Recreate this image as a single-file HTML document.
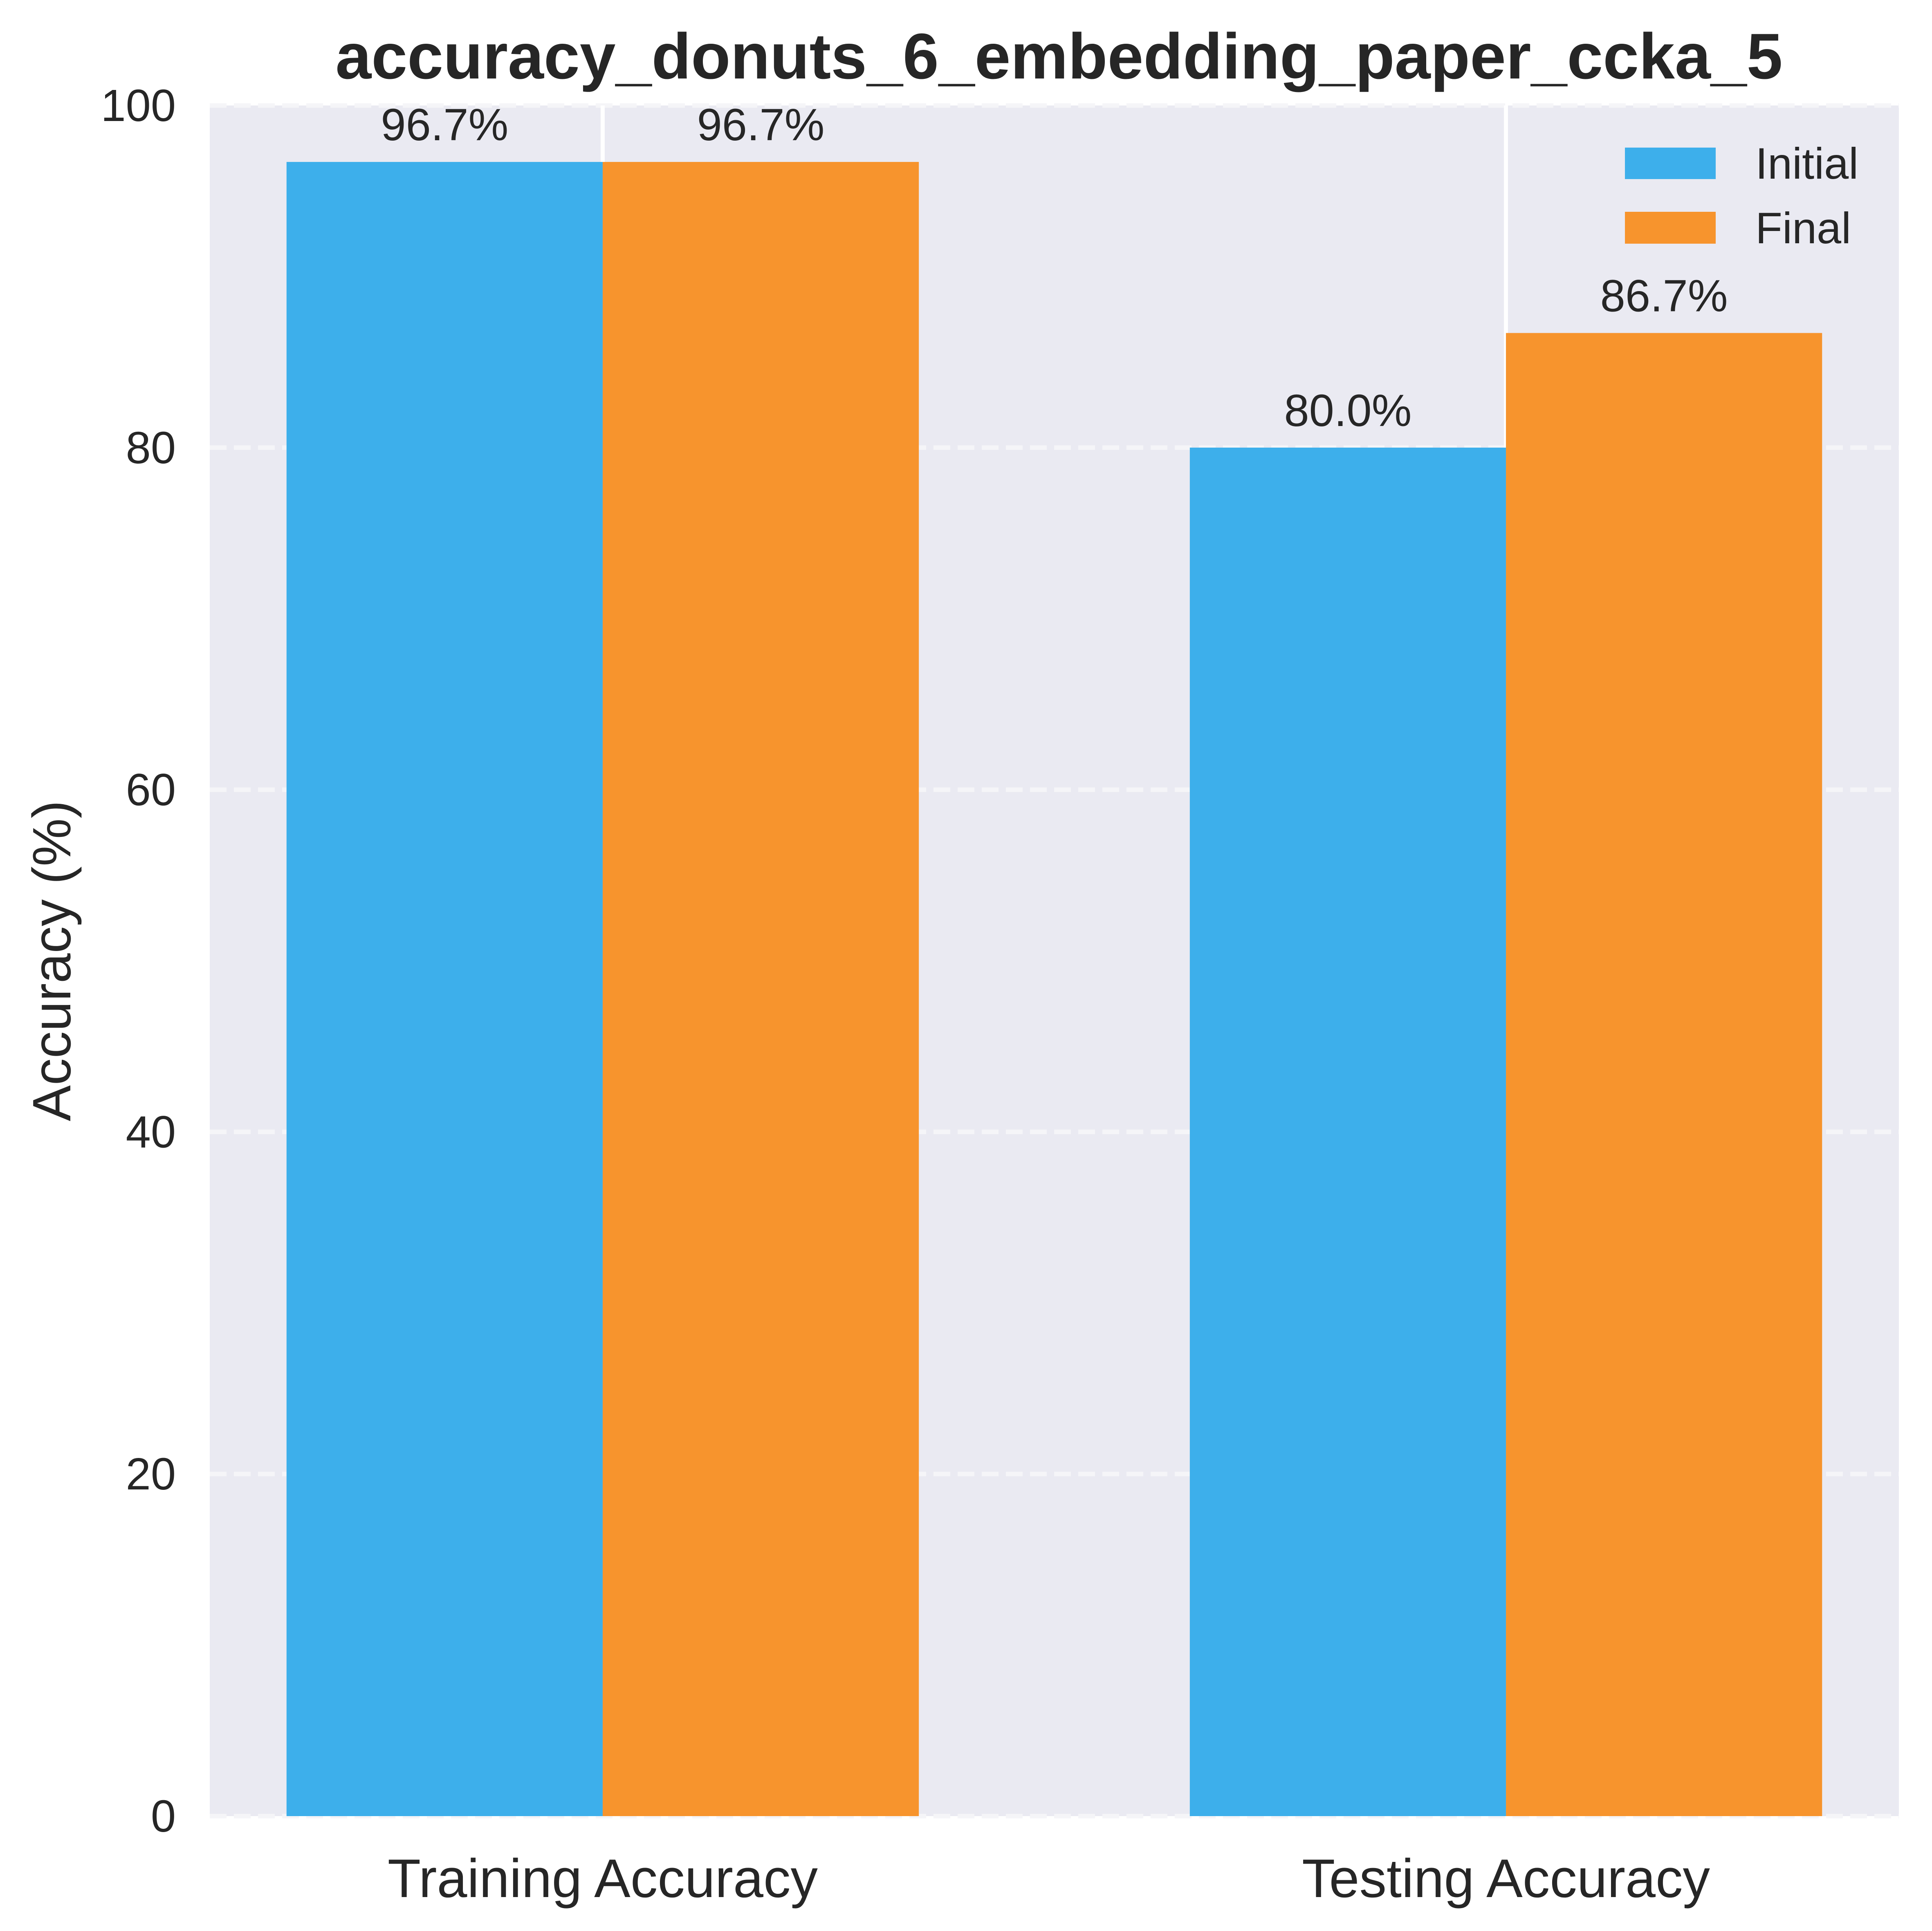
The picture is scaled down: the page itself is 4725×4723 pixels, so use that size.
<!DOCTYPE html>
<html><head><meta charset="utf-8"><style>
html,body{margin:0;padding:0;background:#fff}
svg{display:block}
text{font-family:"Liberation Sans",sans-serif;fill:#262626}
</style></head><body>
<svg id="chart" width="4725" height="4723" viewBox="0 0 4725 4723" xmlns="http://www.w3.org/2000/svg">
<rect x="0" y="0" width="4725" height="4723" fill="#ffffff"/>
<rect x="513" y="258" width="4131" height="4184" fill="#EAEAF2"/>
<g id="grid"></g>
<g id="bars"></g>
<g id="labels"></g>
<text x="2590" y="192" font-size="158" font-weight="bold" text-anchor="middle">accuracy_donuts_6_embedding_paper_ccka_5</text>
<text transform="translate(172,2350) rotate(-90)" font-size="132" text-anchor="middle">Accuracy (%)</text>
<g>
<rect x="3974" y="361" width="222" height="77" fill="#3DAFEB"/>
<text x="4293" y="437" font-size="108">Initial</text>
<rect x="3974" y="518" width="222" height="78" fill="#F7942D"/>
<text x="4293" y="595" font-size="108">Final</text>
</g>
</svg>
<script>
const categories = ["Training Accuracy", "Testing Accuracy"];
const initialValues = [96.7, 80.0];
const finalValues = [96.7, 86.7];
const yTicks = [0, 20, 40, 60, 80, 100];
const seriesNames = ["Initial", "Final"];

const NS = "http://www.w3.org/2000/svg";
const plotL = 513, plotR = 4644, plotT = 258, plotB = 4442;
const xMin = -0.435, xMax = 1.435, yMin = 0, yMax = 100;
const barW = 0.35;
function xs(v){ return plotL + (v - xMin) / (xMax - xMin) * (plotR - plotL); }
function ys(v){ return plotB - (v - yMin) / (yMax - yMin) * (plotB - plotT); }
function mk(tag, attrs, parent){
  const e = document.createElementNS(NS, tag);
  for (const k in attrs) e.setAttribute(k, attrs[k]);
  parent.appendChild(e);
  return e;
}
const grid = document.getElementById('grid');
const bars = document.getElementById('bars');
const labels = document.getElementById('labels');

yTicks.forEach(t => {
  const ln = mk('line', {x1: plotL, x2: plotR, y1: ys(t), y2: ys(t), stroke: '#F5F5F8', 'stroke-width': 11, 'stroke-dasharray': '41 18'}, grid);
  
  
  const tx = mk('text', {x: 430, y: ys(t) + 38, 'font-size': 110, 'text-anchor': 'end'}, labels);
  tx.textContent = String(t);
  
  
});
categories.forEach((c, i) => {
  const ln = mk('line', {x1: xs(i), x2: xs(i), y1: plotT, y2: plotB, stroke: '#ffffff', 'stroke-width': 10}, grid);
  
  
  const tx = mk('text', {x: xs(i), y: 4640, 'font-size': 133, 'text-anchor': 'middle'}, labels);
  tx.textContent = c;
  
  
});
const series = [initialValues, finalValues];
const colors = ["#3DAFEB", "#F7942D"];
series.forEach((vals, s) => {
  vals.forEach((v, i) => {
    const x0 = xs(i + (s === 0 ? -barW : 0));
    const x1 = xs(i + (s === 0 ? 0 : barW));
    const r = mk('rect', {x: x0, y: ys(v), width: x1 - x0, height: ys(0) - ys(v), fill: colors[s]}, bars);
    
    
    const tx = mk('text', {x: (x0 + x1) / 2, y: ys(v) - 53, 'font-size': 110, 'text-anchor': 'middle'}, labels);
    tx.textContent = v.toFixed(1) + '%';
    
    
  });
});
</script>
</body></html>
